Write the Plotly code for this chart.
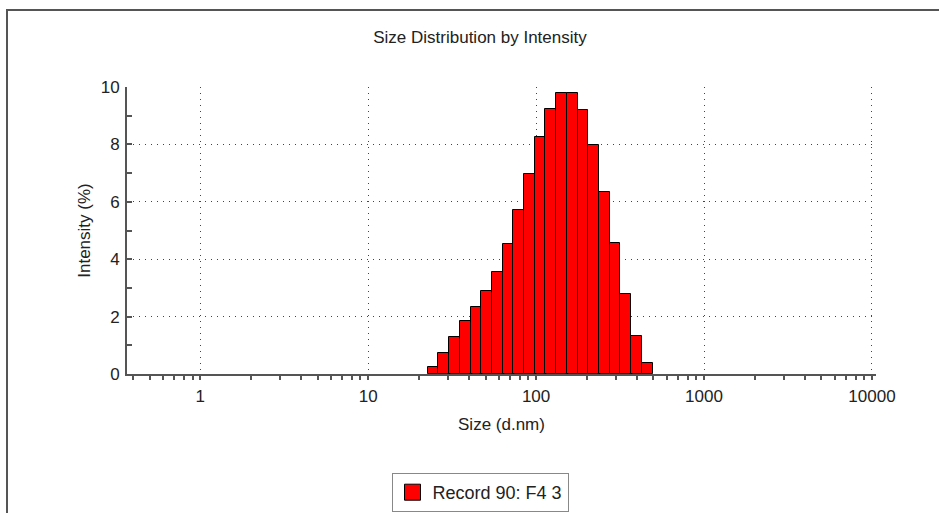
import numpy as np
import plotly.graph_objects as go

# Data (Zetasizer size classes, d.nm)
sizes = [24.36, 28.21, 32.67, 37.84, 43.82, 50.75, 58.77, 68.06, 78.82, 91.28,
         105.7, 122.4, 141.8, 164.2, 190.1, 220.2, 255.0, 295.3, 342.0, 396.1, 458.7]
intensity = [0.23, 0.72, 1.29, 1.84, 2.33, 2.90, 3.56, 4.52, 5.70, 6.97,
             8.25, 9.25, 9.80, 9.80, 9.20, 7.97, 6.33, 4.57, 2.78, 1.33, 0.37]
x_tickvals = [1, 10, 100, 1000, 10000]
x_ticktext = ["1", "10", "100", "1000", "10000"]
y_tickvals = [0, 2, 4, 6, 8, 10]
series_name = "Record 90: F4 3"

FONT = "Liberation Sans, Arial, sans-serif"
TXT = "#222222"
AX = "#555555"
GRID = "#444444"
FS = 17

logx = np.log10(sizes)
bin_w = float(np.mean(np.diff(logx)))
xr = [-0.436, 4.024]

fig = go.Figure()
fig.add_trace(go.Bar(
    x=logx, y=intensity, width=bin_w, xaxis="x2",
    marker=dict(color="#FF0000", line=dict(color="#000000", width=1)),
    showlegend=False, name=series_name,
))
# legend entry
fig.add_trace(go.Scatter(
    x=[None], y=[None], mode="markers", name=series_name,
    marker=dict(symbol="square", size=16, color="#FF0000",
                line=dict(color="#000000", width=1)),
))

fig.update_layout(
    width=939, height=513,
    margin=dict(l=127, r=63, t=87, b=139, autoexpand=False),
    paper_bgcolor="white", plot_bgcolor="white",
    font=dict(family=FONT, size=FS, color=TXT),
    title=dict(text="Size Distribution by Intensity", x=480 / 939, xanchor="center",
               y=1 - 37 / 513, yanchor="middle", xref="container",
               font=dict(size=FS, color=TXT)),
    bargap=0,
    xaxis=dict(
        type="log", range=xr,
        tickvals=x_tickvals, ticktext=x_ticktext,
        showline=True, linecolor=AX, linewidth=2,
        ticks="outside", ticklen=4, tickwidth=1.5, tickcolor=AX,
        minor=dict(dtick="D1", ticks="outside", ticklen=4, tickwidth=1.5,
                   tickcolor=AX, showgrid=False),
        showgrid=True, gridcolor=GRID, gridwidth=1, griddash="1px,5px",
        zeroline=False, ticklabelstandoff=2,
        title=dict(text="Size (d.nm)", standoff=13, font=dict(size=FS)),
        tickfont=dict(size=FS, color=TXT),
    ),
    xaxis2=dict(
        overlaying="x", range=xr, visible=False, showgrid=False,
    ),
    xaxis3=dict(
        overlaying="x", type="log", range=xr, showgrid=False,
        showticklabels=False, ticks="inside", ticklen=4, tickwidth=1.5,
        tickcolor=AX, tickvals=x_tickvals, showline=False, zeroline=False,
        minor=dict(dtick="D1", ticks="inside", ticklen=4, tickwidth=1.5,
                   tickcolor=AX, showgrid=False),
    ),
    yaxis=dict(
        range=[0, 10], tickvals=y_tickvals,
        showline=True, linecolor=AX, linewidth=2,
        ticks="inside", ticklen=5, tickwidth=1.5, tickcolor=AX,
        minor=dict(dtick=1, ticks="inside", ticklen=5, tickwidth=1.5,
                   tickcolor=AX, showgrid=False),
        showgrid=True, gridcolor=GRID, gridwidth=1, griddash="1px,5px",
        zeroline=False, ticklabelstandoff=2,
        title=dict(text="Intensity (%)", standoff=6, font=dict(size=FS)),
        tickfont=dict(size=FS, color=TXT),
    ),
    legend=dict(
        x=(480 - 127) / 749, xanchor="center",
        yref="container", y=1 - 473 / 513, yanchor="top",
        orientation="h",
        bordercolor="#888888", borderwidth=1, bgcolor="white",
        font=dict(size=18, color=TXT),
    ),
    shapes=[dict(
        type="rect", xref="paper", yref="paper",
        xsizemode="pixel", ysizemode="pixel", xanchor=0, yanchor=1,
        x0=7 - 127, x1=960 - 127, y0=-(540 - 87), y1=87 - 10,
        line=dict(color="#555555", width=2), fillcolor="rgba(0,0,0,0)",
        layer="below",
    )],
)

fig.write_html("out.html")
